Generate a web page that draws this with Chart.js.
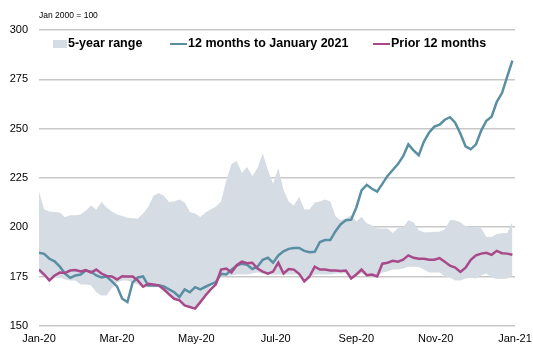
<!DOCTYPE html>
<html>
<head>
<meta charset="utf-8">
<script src="https://cdn.jsdelivr.net/npm/chart.js@4/dist/chart.umd.min.js"></script>
<style>
html,body{margin:0;padding:0;background:#fff;}
#wrap{width:533px;height:348px;position:relative;}
</style>
</head>
<body>
<div id="wrap"><canvas id="c" width="533" height="348"></canvas></div>
<script>
// Day offsets from 1 Jan 2020
const days = [0,4,8,12,16,20,24,28,32,36,40,44,48,52,56,60,64,68,72,76,80,84,88,92,96,100,104,108,112,116,120,124,128,132,136,140,144,148,152,156,160,164,168,172,176,180,184,188,192,196,200,204,208,212,216,220,224,228,232,236,240,244,248,252,256,260,264,268,272,276,280,284,288,292,296,300,304,308,312,316,320,324,328,332,336,340,344,348,352,356,360,364];

const current12 = [187,186.5,184,182.7,180,176.5,174.3,175.5,176,178,177.5,175.5,174.5,175,172.5,170,163.7,162,172,174.5,175,170.4,170.4,170.5,170,168.5,167,164.6,168.5,167,169.6,168.5,169.8,171,172.2,176.4,176,178.5,180.5,181.5,181,178.8,180,183.5,184.5,182,185.7,187.8,189,189.5,189.5,188,187.3,187.5,192.5,193.5,193.5,198,201.5,203.5,203.8,210,218.7,221.5,219.5,218,222,226,229,232,236,242,239,236.5,243.5,248,251,252,254.5,255.8,253,247.5,241,239.5,242,249,254,256,263.6,268,276.3,284.5];

const prior12 = [178.5,176,173,175.5,177,176.8,178,178.3,177.5,178.2,177,178.5,176.5,175.3,175,173.5,175.1,175,175,173,169.8,171.3,171,170.5,168.5,166,163.7,162.9,160.3,159.5,158.7,162,165.4,168.5,171,178.5,179,177,180.7,182.5,181.7,182,179,177.5,176.4,177.5,182,176.5,178.8,178.5,176.4,172.5,175,180,178.5,178.5,178,178,177.8,178,174,176,178.5,175.7,176,175,181.5,182,183,182.5,183.5,185.7,184.5,184,184,183.5,183.5,184.3,182.5,180.5,179.5,177.3,179.5,183.5,185.7,186.6,187,186,188,186.8,186.6,186];

const rangeHigh = [218,209,208,207.7,207.5,205,206,206,206.5,208.5,211,209,212.8,210,208,206.5,205.7,204.8,204.5,204.4,207,210.3,216,217.4,216,212.8,213,214,212.5,207.7,207,205.2,207.5,209,210.5,213,223.8,232,233.6,227.5,230.5,226,230,237.4,229,222,230,219,213,211,215.4,209,209,212.5,213,214,213,205.5,203.5,204.5,206,203,205.2,202,201,199.5,199.3,199.3,197,199.5,200,203.5,202.5,198.5,197.5,197.5,197.7,197.7,199,203.5,203.5,202.5,200.5,200,200.2,199.5,195,195,196.5,196.9,197,202.7];

const rangeLow = [176.6,175,174.7,174.7,174.5,173.5,173,173,171,171,170.5,167,165.4,165.4,169,172,173,173,172,171,169.6,169.6,169.6,169.6,167,167,164.5,163.5,161,160,159.5,163,166,170,172.5,175,175.5,175.5,176,176,176,176.5,177,176.5,176,176,176,176,176,176,176,172,174,176,176,176,176,176.5,176.5,176.5,174,175.5,176.5,175.5,175.5,175,177,177.5,178.5,178.5,179,180,180,179.8,178.5,177,177,177,175,174.5,173,173,174,174.5,174,175.5,176.5,174.5,173.7,173.7,174,175.5];

const tickDays = [0,60,121,182,244,305,366];
const tickLabels = ['Jan-20','Mar-20','May-20','Jul-20','Sep-20','Nov-20','Jan-21'];
const yTicks = [150,175,200,225,250,275,300];

const seriesNames = ['5-year range','12 months to January 2021','Prior 12 months'];
const unitNote = 'Jan 2000 = 100';

const BAND = '#d6dce4', BLUE = '#5a8fa3', PINK = '#a8498a';
const FONT = '"Liberation Sans", Arial, sans-serif';

const pts = arr => arr.map((v,i)=>({x:days[i], y:v}));

const overlay = {
  id:'overlay',
  afterDraw(chart){
    const ctx = chart.ctx;
    ctx.save();
    ctx.fillStyle = '#000';
    ctx.font = '8.5px ' + FONT;
    ctx.textBaseline = 'middle';
    ctx.textAlign = 'left';
    ctx.fillText(unitNote, 39, 16);
    // legend
    const ly = 44;
    ctx.font = 'bold 12.5px ' + FONT;
    ctx.fillStyle = BAND;
    ctx.fillRect(53, 40, 14, 8);
    ctx.fillStyle = '#000';
    ctx.fillText(seriesNames[0], 68, ly);
    ctx.strokeStyle = BLUE; ctx.lineWidth = 2;
    ctx.beginPath(); ctx.moveTo(170, ly); ctx.lineTo(187, ly); ctx.stroke();
    ctx.fillText(seriesNames[1], 188, ly);
    ctx.strokeStyle = PINK;
    ctx.beginPath(); ctx.moveTo(373, ly); ctx.lineTo(390, ly); ctx.stroke();
    ctx.fillText(seriesNames[2], 391, ly);
    ctx.restore();
  }
};

new Chart(document.getElementById('c'), {
  type:'line',
  data:{
    datasets:[
      {label:'low', order:4, data:pts(rangeLow), borderWidth:0, pointRadius:0, fill:false, borderColor:'rgba(0,0,0,0)', tension:0},
      {label:seriesNames[0], order:3, data:pts(rangeHigh), borderWidth:0, pointRadius:0, fill:'-1', backgroundColor:BAND, borderColor:'rgba(0,0,0,0)', tension:0},
      {label:seriesNames[1], order:2, data:pts(current12), borderWidth:2.5, pointRadius:0, borderColor:BLUE, fill:false, tension:0},
      {label:seriesNames[2], order:1, data:pts(prior12), borderWidth:2.5, pointRadius:0, borderColor:PINK, fill:false, tension:0}
    ]
  },
  options:{
    responsive:false,
    animation:false,
    events:[],
    layout:{padding:{left:0,right:18,top:30,bottom:-5}},
    plugins:{legend:{display:false}, tooltip:{enabled:false}, filler:{drawTime:'beforeDatasetsDraw'}},
    scales:{
      x:{
        type:'linear', min:0, max:366,
        afterBuildTicks(s){ s.ticks = tickDays.map(v=>({value:v})); },
        afterFit(s){ s.paddingRight = 0; s.paddingLeft = 0; },
        ticks:{autoSkip:false, maxRotation:0, padding:7, color:'#000', font:{family:FONT,size:11},
          callback:(v,i)=>tickLabels[i]},
        grid:{display:false, drawTicks:false},
        border:{display:false}
      },
      y:{
        min:150, max:300,
        afterBuildTicks(s){ s.ticks = yTicks.map(v=>({value:v})); },
        afterFit(s){ s.width = 39; },
        ticks:{padding:11, color:'#000', font:{family:FONT,size:11}},
        grid:{color:'#c8c8c8', lineWidth:1.5, drawTicks:false},
        border:{display:false}
      }
    }
  },
  plugins:[overlay]
});
</script>
</body>
</html>
